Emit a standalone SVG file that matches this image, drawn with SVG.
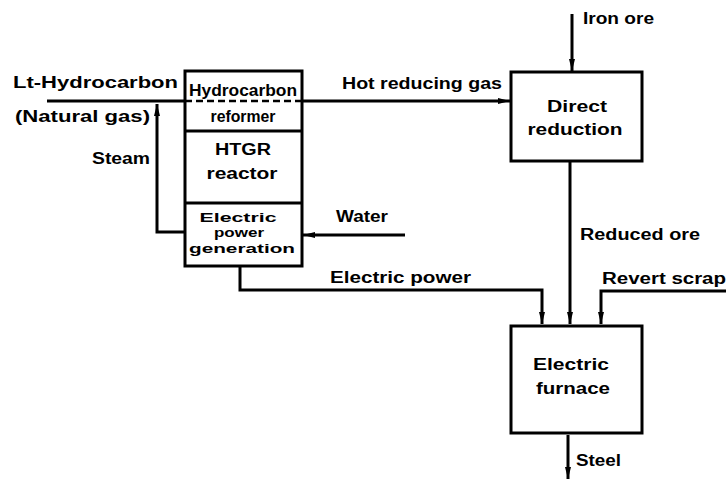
<svg xmlns="http://www.w3.org/2000/svg" width="726" height="481" viewBox="0 0 726 481">
<defs>
<style>
.box{fill:none;stroke:#000;stroke-width:3}
.ln{fill:none;stroke:#000;stroke-width:3}
.dash{fill:none;stroke:#000;stroke-width:2.5;stroke-dasharray:7 4}
text{font-family:"Liberation Sans",Arial,sans-serif;font-weight:bold;font-size:16px;fill:#000}
.c{text-anchor:middle}
.s{font-size:13.5px}
</style>
<marker id="ah" viewBox="0 0 12 8" refX="12" refY="4" markerWidth="12" markerHeight="8" markerUnits="userSpaceOnUse" orient="auto">
<path d="M0,1 L12,4 L0,7 z" fill="#000"/>
</marker>
</defs>
<rect width="726" height="481" fill="#fff"/>

<g id="connectors">
<path class="ln" d="M47,101 H185"/>
<path class="ln" d="M302,101 H510" marker-end="url(#ah)"/>
<path class="ln" d="M185,232 H157 V104" marker-end="url(#ah)"/>
<path class="ln" d="M405,235 H303" marker-end="url(#ah)"/>
<path class="ln" d="M240,267 V290 H542 V324" marker-end="url(#ah)"/>
<path class="ln" d="M726,291 H601 V324" marker-end="url(#ah)"/>
<path class="ln" d="M570,161 V324" marker-end="url(#ah)"/>
<path class="ln" d="M572,14 V71" marker-end="url(#ah)"/>
<path class="ln" d="M568,435 V479" marker-end="url(#ah)"/>
</g>

<g id="reformer-stack">
<rect class="box" x="185" y="71" width="117" height="195"/>
<path class="dash" d="M185,101 H302"/>
<path class="ln" d="M185,131 H302"/>
<path class="ln" d="M185,203 H302"/>
</g>
<g id="hydrocarbon-reformer">
<text x="243" y="96" class="c" textLength="108" lengthAdjust="spacingAndGlyphs">Hydrocarbon</text>
<text x="243" y="122" class="c" textLength="65" lengthAdjust="spacingAndGlyphs">reformer</text>
</g>
<g id="htgr-reactor">
<text x="243" y="155" class="c" textLength="56" lengthAdjust="spacingAndGlyphs">HTGR</text>
<text x="242" y="179" class="c" textLength="71" lengthAdjust="spacingAndGlyphs">reactor</text>
</g>
<g id="electric-power-generation">
<text x="238" y="222" class="c s" textLength="77" lengthAdjust="spacingAndGlyphs">Electric</text>
<text x="239" y="237" class="c s" textLength="50" lengthAdjust="spacingAndGlyphs">power</text>
<text x="242" y="253" class="c s" textLength="106" lengthAdjust="spacingAndGlyphs">generation</text>
</g>

<g id="direct-reduction">
<rect class="box" x="511" y="72" width="131" height="89"/>
<text x="577" y="112" class="c" textLength="60" lengthAdjust="spacingAndGlyphs">Direct</text>
<text x="575" y="135" class="c" textLength="95" lengthAdjust="spacingAndGlyphs">reduction</text>
</g>

<g id="electric-furnace">
<rect class="box" x="511" y="326" width="131" height="107"/>
<text x="571" y="370" class="c" textLength="76" lengthAdjust="spacingAndGlyphs">Electric</text>
<text x="573" y="394" class="c" textLength="74" lengthAdjust="spacingAndGlyphs">furnace</text>
</g>

<g id="labels">
<text x="13" y="88" textLength="165" lengthAdjust="spacingAndGlyphs">Lt-Hydrocarbon</text>
<text x="15" y="122" textLength="135" lengthAdjust="spacingAndGlyphs">(Natural gas)</text>
<text x="92" y="164" textLength="58" lengthAdjust="spacingAndGlyphs">Steam</text>
<text x="342" y="89" textLength="160" lengthAdjust="spacingAndGlyphs">Hot reducing gas</text>
<text x="583" y="24" textLength="71" lengthAdjust="spacingAndGlyphs">Iron ore</text>
<text x="580" y="240" textLength="120" lengthAdjust="spacingAndGlyphs">Reduced ore</text>
<text x="336" y="222" textLength="52" lengthAdjust="spacingAndGlyphs">Water</text>
<text x="330" y="283" textLength="141" lengthAdjust="spacingAndGlyphs">Electric power</text>
<text x="602" y="284" textLength="124" lengthAdjust="spacingAndGlyphs">Revert scrap</text>
<text x="576" y="466" textLength="45" lengthAdjust="spacingAndGlyphs">Steel</text>
</g>
</svg>
